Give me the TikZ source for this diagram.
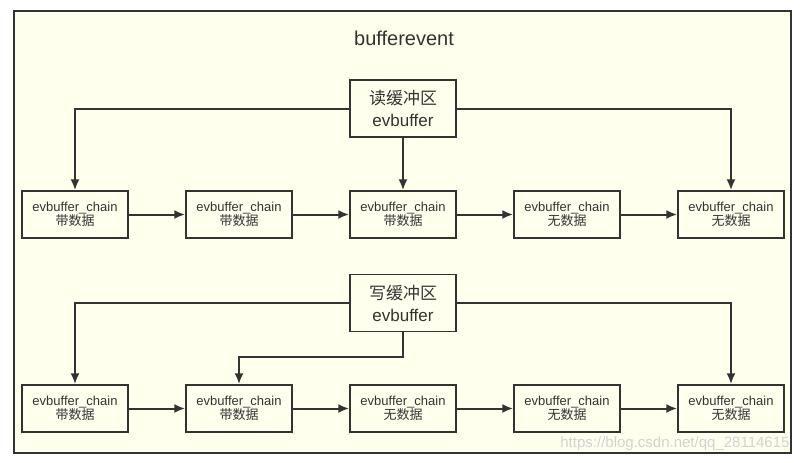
\documentclass[tikz,border=0pt]{standalone}
\usepackage{fontspec}
\setmainfont{Liberation Sans}
\newfontfamily\cjk{Noto Sans CJK SC}
\usetikzlibrary{arrows,arrows.meta,shapes,positioning}
\definecolor{linec}{HTML}{333333}
\definecolor{bgc}{HTML}{FFFFEE}

\begin{document}
\begin{tikzpicture}[x=1pt, y=-1pt, node distance=56.5pt and 56.5pt,
    chain/.style={rectangle,draw=linec,line width=1.5pt,minimum width=106pt,minimum height=47pt,inner sep=0pt,align=center,text=linec,font=\fontsize{13}{14}\selectfont},
    buf/.style={rectangle,draw=linec,line width=1.5pt,minimum width=106pt,minimum height=57pt,inner sep=0pt,align=center,text=linec,font=\fontsize{17}{22}\selectfont},
    flow/.style={draw=linec,line width=2pt,-{Latex[length=11pt,width=9pt]}}]
            \useasboundingbox (0,0) rectangle (806,463);
            \draw[draw=linec,fill=bgc,line width=1.5pt] (14,11) rectangle (791,453);
            \node[text=linec,font=\fontsize{20}{24}\selectfont] (title) at (404,38) {bufferevent};

            % read buffer
            \node[chain] (r1) at (75,214.5) {evbuffer\_chain\\{\cjk 带数据}};
            \node[chain] (r2) [right=of r1] {evbuffer\_chain\\{\cjk 带数据}};
            \node[chain] (r3) [right=of r2] {evbuffer\_chain\\{\cjk 带数据}};
            \node[chain] (r4) [right=of r3] {evbuffer\_chain\\{\cjk 无数据}};
            \node[chain] (r5) [right=of r4] {evbuffer\_chain\\{\cjk 无数据}};
            \node[buf] (rbuf) at (r3.center |- 0,108.5) {{\cjk 读缓冲区}\\evbuffer};

            % write buffer
            \node[chain] (w1) at (75,408.5) {evbuffer\_chain\\{\cjk 带数据}};
            \node[chain] (w2) [right=of w1] {evbuffer\_chain\\{\cjk 带数据}};
            \node[chain] (w3) [right=of w2] {evbuffer\_chain\\{\cjk 无数据}};
            \node[chain] (w4) [right=of w3] {evbuffer\_chain\\{\cjk 无数据}};
            \node[chain] (w5) [right=of w4] {evbuffer\_chain\\{\cjk 无数据}};
            \node[buf] (wbuf) at (w3.center |- 0,303) {{\cjk 写缓冲区}\\evbuffer};
            \coordinate (wbend) at (w3.center |- 0,357);

            \draw[flow] (rbuf.west) -| (r1.north);
            \draw[flow] (rbuf.south) -- (r3.north);
            \draw[flow] (rbuf.east) -| (r5.north);
            \draw[flow] (r1) -- (r2);
            \draw[flow] (r2) -- (r3);
            \draw[flow] (r3) -- (r4);
            \draw[flow] (r4) -- (r5);

            \draw[flow] (wbuf.west) -| (w1.north);
            \draw[flow] (wbuf.south) -- (wbend) -| (w2.north);
            \draw[flow] (wbuf.east) -| (w5.north);
            \draw[flow] (w1) -- (w2);
            \draw[flow] (w2) -- (w3);
            \draw[flow] (w3) -- (w4);
            \draw[flow] (w4) -- (w5);

            \node[text=gray!35,font=\fontsize{15}{16}\selectfont,anchor=east] (mark) at (793,444) {https://blog.csdn.net/qq\_28114615};
          \end{tikzpicture}
\end{document}
